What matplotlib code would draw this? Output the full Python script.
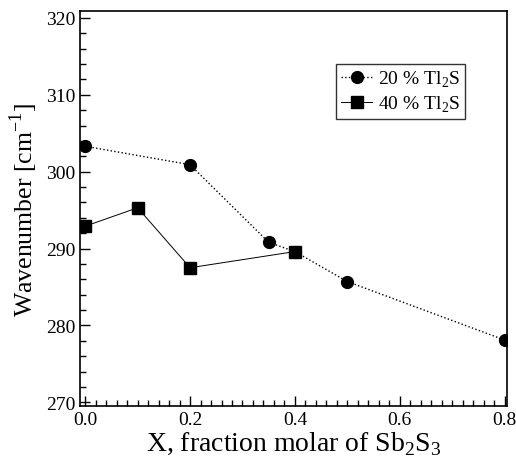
import matplotlib.pyplot as plt
from matplotlib.ticker import MultipleLocator

# Raman band position vs Sb2S3 fraction for two Tl2S contents
x_20 = [0.0, 0.2, 0.35, 0.4, 0.5, 0.8]
w_20 = [303.3, 300.9, 290.8, 289.6, 285.7, 278.1]

x_40 = [0.0, 0.1, 0.2, 0.4]
w_40 = [292.9, 295.3, 287.5, 289.6]

plt.rcParams['font.family'] = 'Liberation Serif'
plt.rcParams['mathtext.fontset'] = 'custom'
plt.rcParams['mathtext.rm'] = 'Liberation Serif'

fig = plt.figure(figsize=(5.16, 4.6), dpi=100)
ax = fig.add_axes([0.155, 0.115, 0.828, 0.859])

ax.plot(x_20, w_20, color='black', linestyle=':', linewidth=1.0,
        marker='o', markersize=8.5, label=r'20 % Tl$_2$S')
ax.plot(x_40, w_40, color='black', linestyle='-', linewidth=0.7,
        marker='s', markersize=8, label=r'40 % Tl$_2$S')

ax.set_xlim(-0.01, 0.805)
ax.set_ylim(269.5, 320.9)
ax.xaxis.set_major_locator(MultipleLocator(0.2))
ax.xaxis.set_minor_locator(MultipleLocator(0.02))
ax.yaxis.set_major_locator(MultipleLocator(10))
ax.yaxis.set_minor_locator(MultipleLocator(2))
ax.xaxis.set_major_formatter(plt.FormatStrFormatter('%.1f'))
ax.tick_params(which='both', direction='in', top=False, right=False,
               labelsize=14, width=1.0)
ax.tick_params(which='major', length=7)
ax.tick_params(which='minor', length=4)
for s in ax.spines.values():
    s.set_linewidth(1.2)

ax.set_xlabel(r'X, fraction molar of Sb$_2$S$_3$', fontsize=20, labelpad=1)
ax.set_ylabel(r'Wavenumber [cm$^{-1}$]', fontsize=18.5, labelpad=4)

leg = ax.legend(loc='upper left', bbox_to_anchor=(0.60, 0.866), fontsize=14,
                frameon=True, fancybox=False, edgecolor='black',
                handlelength=1.6, handletextpad=0.3, borderpad=0.25,
                labelspacing=0.25, borderaxespad=0)
leg.get_frame().set_linewidth(1.0)

fig.savefig('out.png', dpi=100)
